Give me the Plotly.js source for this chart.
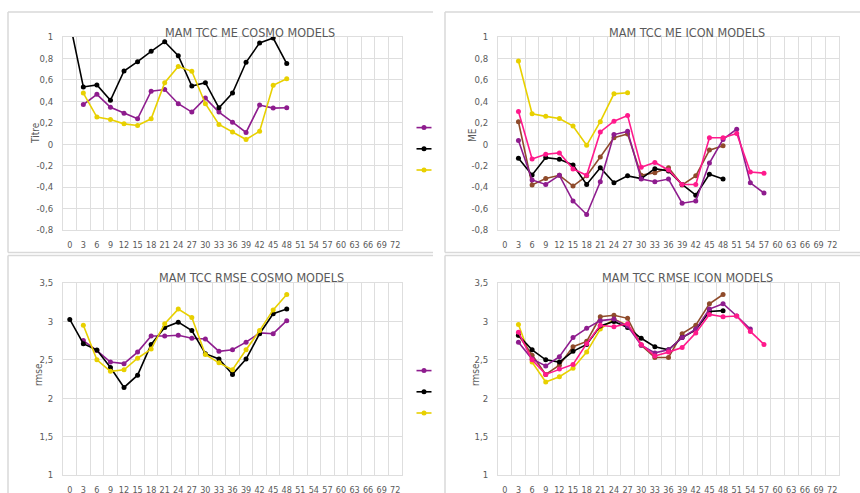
<!DOCTYPE html>
<html>
<head>
<meta charset="utf-8">
<script src="https://cdn.plot.ly/plotly-3.0.1.min.js"></script>
<style>
  html, body { margin: 0; padding: 0; background: #ffffff; }
  #chart { width: 860px; height: 493px; }
</style>
</head>
<body>
<div id="chart"></div>
<script>
// Lead times (hours) shown on every category axis
const axisHours = [0,3,6,9,12,15,18,21,24,27,30,33,36,39,42,45,48,51,54,57,60,63,66,69,72];
const axisHourLabels = axisHours.map(String);

// Lead times that carry data
const leadHours = [0,3,6,9,12,15,18,21,24,27,30,33,36,39,42,45,48,51,54,57];

// Value-axis ticks
const meTicks = [-0.8,-0.6,-0.4,-0.2,0,0.2,0.4,0.6,0.8,1];
const meTickLabels = ['-0,8','-0,6','-0,4','-0,2','0','0,2','0,4','0,6','0,8','1'];
const rmseTicks = [1,1.5,2,2.5,3,3.5];
const rmseTickLabels = ['1','1,5','2','2,5','3','3,5'];

// MAM TCC ME - COSMO models
const cosmoMePurple = [null,0.37,0.465,0.345,0.29,0.237,0.495,0.51,0.378,0.30,0.43,0.30,0.206,0.11,0.365,0.337,0.34];
const cosmoMeBlack  = [1.14,0.534,0.553,0.41,0.683,0.77,0.866,0.956,0.826,0.543,0.574,0.34,0.477,0.764,0.945,0.99,0.752];
const cosmoMeYellow = [null,0.477,0.253,0.231,0.19,0.175,0.237,0.573,0.726,0.68,0.378,0.185,0.113,0.044,0.122,0.55,0.61];

// MAM TCC ME - ICON models
const iconMeYellow = [null,0.776,0.284,0.26,0.24,0.17,-0.01,0.21,0.47,0.48];
const iconMePink   = [null,0.306,-0.137,-0.093,-0.081,-0.23,-0.29,0.115,0.215,0.268,-0.215,-0.17,-0.24,-0.375,-0.375,0.06,0.06,0.1,-0.26,-0.27];
const iconMePurple = [null,0.034,-0.333,-0.375,-0.29,-0.53,-0.655,-0.35,0.09,0.12,-0.325,-0.35,-0.325,-0.55,-0.53,-0.175,0.045,0.14,-0.36,-0.455];
const iconMeBrown  = [null,0.21,-0.38,-0.32,-0.29,-0.39,-0.295,-0.12,0.06,0.095,-0.29,-0.265,-0.22,-0.38,-0.295,-0.055,-0.015];
const iconMeBlack  = [null,-0.13,-0.287,-0.125,-0.14,-0.193,-0.375,-0.22,-0.36,-0.295,-0.32,-0.228,-0.25,-0.375,-0.475,-0.28,-0.325];

// MAM TCC RMSE - COSMO models
const cosmoRmsePurple = [null,2.75,2.62,2.47,2.45,2.60,2.81,2.81,2.82,2.78,2.77,2.61,2.63,2.73,2.85,2.84,3.01];
const cosmoRmseBlack  = [3.026,2.71,2.626,2.40,2.14,2.30,2.70,2.92,2.99,2.88,2.58,2.51,2.31,2.51,2.84,3.10,3.16];
const cosmoRmseYellow = [null,2.95,2.50,2.35,2.37,2.52,2.64,2.97,3.16,3.05,2.57,2.46,2.37,2.63,2.88,3.15,3.35];

// MAM TCC RMSE - ICON models
const iconRmseYellow = [null,2.96,2.47,2.21,2.28,2.39,2.60,2.90,3.03,2.95];
const iconRmsePink   = [null,2.86,2.50,2.31,2.38,2.44,2.71,2.95,2.93,2.97,2.70,2.55,2.60,2.66,2.85,3.09,3.06,3.07,2.87,2.70];
const iconRmsePurple = [null,2.73,2.51,2.42,2.54,2.79,2.91,3.01,3.03,2.94,2.69,2.59,2.63,2.79,2.90,3.16,3.23,3.07,2.90];
const iconRmseBrown  = [null,2.82,2.56,2.31,2.43,2.67,2.74,3.06,3.08,3.04,2.69,2.53,2.53,2.84,2.95,3.23,3.35];
const iconRmseBlack  = [null,2.82,2.63,2.50,2.47,2.61,2.70,2.94,3.00,2.92,2.78,2.67,2.63,2.79,2.89,3.13,3.14];

const C = {
  purple: '#8e1c8e',
  black:  '#000000',
  yellow: '#e8d000',
  pink:   '#ff1a8c',
  brown:  '#8f4b2b'
};

const W = 860, H = 493;
const fx = p => p / W;
const fy = p => 1 - p / H;

const GRID = '#dedede';
const TEXT = '#595959';
const FONT = '"DejaVu Sans Condensed", "Liberation Sans Narrow", Lato, sans-serif';

function series(values, color, ax, legend) {
  return {
    type: 'scatter',
    mode: 'lines+markers',
    x: leadHours.slice(0, values.length),
    y: values,
    xaxis: 'x' + ax,
    yaxis: 'y' + ax,
    name: '',
    connectgaps: false,
    line: { color: color, width: 1.6 },
    marker: { color: color, size: 5, symbol: 'circle' },
    showlegend: !!legend,
    legend: legend || 'legend',
    hoverinfo: 'skip'
  };
}

const data = [
  series(cosmoMePurple, C.purple, '', 'legend'),
  series(cosmoMeBlack,  C.black,  '', 'legend'),
  series(cosmoMeYellow, C.yellow, '', 'legend'),

  series(iconMeYellow, C.yellow, '2'),
  series(iconMeBrown,  C.brown,  '2'),
  series(iconMeBlack,  C.black,  '2'),
  series(iconMePurple, C.purple, '2'),
  series(iconMePink,   C.pink,   '2'),

  series(cosmoRmsePurple, C.purple, '3', 'legend2'),
  series(cosmoRmseBlack,  C.black,  '3', 'legend2'),
  series(cosmoRmseYellow, C.yellow, '3', 'legend2'),

  series(iconRmseYellow, C.yellow, '4'),
  series(iconRmseBrown,  C.brown,  '4'),
  series(iconRmseBlack,  C.black,  '4'),
  series(iconRmsePurple, C.purple, '4'),
  series(iconRmsePink,   C.pink,   '4')
];

function xAxis(left, right, anchor) {
  return {
    domain: [fx(left), fx(right)],
    anchor: anchor,
    range: [-1.5, 73.5],
    tickmode: 'array',
    tickvals: axisHours,
    ticktext: axisHourLabels,
    tickangle: 0,
    showgrid: false,
    minor: { tick0: -1.5, dtick: 3, showgrid: true, gridcolor: GRID, gridwidth: 1, ticks: '' },
    zeroline: false,
    showline: true, mirror: true, linecolor: GRID, linewidth: 1,
    ticks: '',
    ticklabelstandoff: 6,
    tickfont: { family: FONT, size: 9, color: TEXT },
    fixedrange: true
  };
}
function yAxis(top, bottom, anchor, range, vals, text) {
  return {
    domain: [fy(bottom), fy(top)],
    anchor: anchor,
    range: range,
    tickmode: 'array',
    tickvals: vals,
    ticktext: text,
    showgrid: true, gridcolor: GRID, gridwidth: 1,
    zeroline: false,
    showline: true, mirror: true, linecolor: GRID, linewidth: 1,
    ticks: '',
    ticklabelstandoff: 7,
    tickfont: { family: FONT, size: 9.5, color: TEXT },
    fixedrange: true
  };
}

function title(text, xpx, ypx) {
  return { text: text, xref: 'paper', yref: 'paper', x: fx(xpx), y: fy(ypx),
           xanchor: 'center', yanchor: 'middle', showarrow: false,
           font: { family: FONT, size: 12.5, color: TEXT } };
}
function axisTitle(text, xpx, ypx) {
  return { text: text, xref: 'paper', yref: 'paper', x: fx(xpx), y: fy(ypx),
           xanchor: 'center', yanchor: 'middle', showarrow: false, textangle: -90,
           font: { family: FONT, size: 10, color: TEXT } };
}
function hline(y, x0, x1) {
  return { type: 'line', xref: 'paper', yref: 'paper', x0: fx(x0), x1: fx(x1), y0: fy(y), y1: fy(y),
           line: { color: '#d9d9d9', width: 1.5 } };
}
function vline(x, y0, y1) {
  return { type: 'line', xref: 'paper', yref: 'paper', x0: fx(x), x1: fx(x), y0: fy(y0), y1: fy(y1),
           line: { color: '#d9d9d9', width: 1.5 } };
}

const legendStyle = {
  xanchor: 'left', yanchor: 'top',
  bgcolor: 'rgba(0,0,0,0)', borderwidth: 0,
  font: { family: FONT, size: 14, color: TEXT },
  itemwidth: 30, tracegroupgap: 0,
  itemclick: false, itemdoubleclick: false
};

const layout = {
  width: W, height: H,
  margin: { l: 0, r: 0, t: 0, b: 0 },
  paper_bgcolor: '#ffffff',
  plot_bgcolor: '#ffffff',
  showlegend: true,
  legend:  Object.assign({ x: fx(404), y: fy(112) }, legendStyle),
  legend2: Object.assign({ x: fx(404), y: fy(355) }, legendStyle),
  xaxis:  xAxis(63, 402, 'y'),
  yaxis:  yAxis(37, 230, 'x', [-0.8, 1], meTicks, meTickLabels),
  xaxis2: xAxis(498, 839, 'y2'),
  yaxis2: yAxis(37, 230, 'x2', [-0.8, 1], meTicks, meTickLabels),
  xaxis3: xAxis(63, 402, 'y3'),
  yaxis3: yAxis(283, 475, 'x3', [1, 3.5], rmseTicks, rmseTickLabels),
  xaxis4: xAxis(498, 839, 'y4'),
  yaxis4: yAxis(283, 475, 'x4', [1, 3.5], rmseTicks, rmseTickLabels),
  annotations: [
    title('MAM TCC ME COSMO MODELS', 250, 33),
    title('MAM TCC ME ICON MODELS', 687, 33),
    title('MAM TCC RMSE COSMO MODELS', 251, 277),
    title('MAM TCC RMSE ICON MODELS', 687, 277),
    axisTitle('Titre', 35, 133),
    axisTitle('ME', 472, 135),
    axisTitle('rmse', 38, 375),
    axisTitle('rmse', 475, 375)
  ],
  shapes: [
    hline(12, 8, 433), hline(12, 445, 860),
    vline(8, 12, 252.5), vline(445, 12, 252.5),
    hline(252.5, 8, 433), hline(252.5, 445, 860),
    hline(255.5, 8, 433), hline(255.5, 445, 860),
    vline(8, 255.5, 493), vline(445, 255.5, 493)
  ]
};

Plotly.newPlot('chart', data, layout, { staticPlot: true, displayModeBar: false }).then(gd => {
  // shorter legend keys, centred on the marker
  gd.querySelectorAll('.legendlines path').forEach(p => p.setAttribute('d', 'M12.5,0h15'));
});
</script>
</body>
</html>
